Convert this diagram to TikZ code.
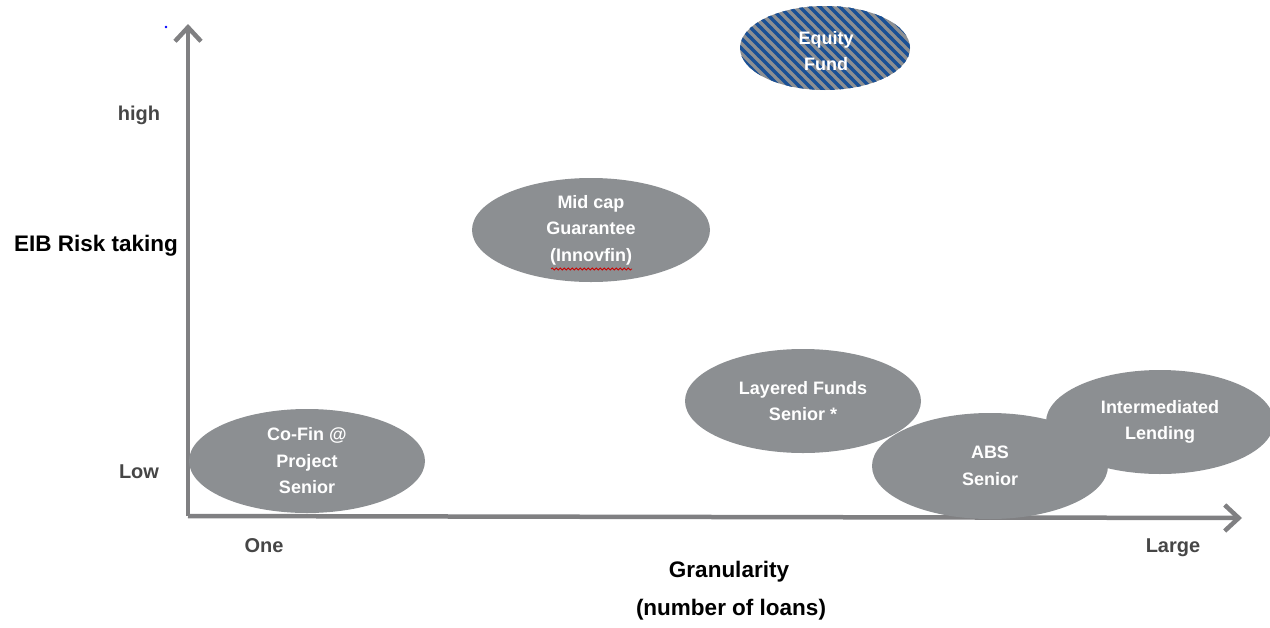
\documentclass[tikz,border=0pt]{standalone}
\usepackage{fontspec}
\setmainfont{Liberation Sans}
\usetikzlibrary{arrows.meta,patterns.meta,decorations.pathmorphing,shapes.geometric}
\definecolor{axisgray}{RGB}{128,128,130}
\definecolor{ellgray}{RGB}{140,143,146}
\definecolor{stripeblue}{RGB}{25,80,150}
\definecolor{labgray}{RGB}{70,70,70}
\tikzset{
  blobtext/.style={text=white, font=\fontsize{18}{26.5}\selectfont\bfseries, align=center},
  blob/.style={ellipse, fill=ellgray, blobtext, inner sep=0pt},
  axisline/.style={draw=axisgray, line width=4.5pt, -{Straight Barb[length=14pt,width=26pt,line width=4.5pt]}},
  axlab/.style={text=labgray, font=\fontsize{20}{24}\selectfont\bfseries},
  title/.style={text=black, font=\fontsize{22.5}{26}\selectfont\bfseries},
}
\pgfdeclarepattern{
  name=eqstripes, type=uncolored,
  bottom left={\pgfpoint{-.1pt}{-.1pt}}, top right={\pgfpoint{10.1pt}{10.1pt}},
  tile size={\pgfpoint{10pt}{10pt}},
  code={
    \pgfsetlinewidth{3.4pt}
    \pgfpathmoveto{\pgfpoint{-1pt}{11pt}}\pgfpathlineto{\pgfpoint{11pt}{-1pt}}
    \pgfpathmoveto{\pgfpoint{-2pt}{2pt}}\pgfpathlineto{\pgfpoint{2pt}{-2pt}}
    \pgfpathmoveto{\pgfpoint{8pt}{12pt}}\pgfpathlineto{\pgfpoint{12pt}{8pt}}
    \pgfusepath{stroke}
  }
}
\begin{document}
\begin{tikzpicture}[x=1pt,y=-1pt]
\useasboundingbox (0,0) rectangle (1270,627);
% axes
\coordinate (o) at (188,516);
\coordinate (ytip) at (188,24);
\coordinate (xtip) at (1242,518);
\draw[axisline] (o) -- (ytip);
\draw[axisline] (o) -- (xtip);
% ellipses
\node[blob, minimum width=236pt, minimum height=104pt] (cofin) at (307,461) {Co-Fin @\\Project\\Senior};
\node[blob, minimum width=238pt, minimum height=104pt] (midcap) at (591,230) {Mid cap\\Guarantee\\(Innovfin)};
\node[blob, minimum width=236pt, minimum height=104pt] (layered) at (803,401) {Layered Funds\\Senior *};
\node[blob, minimum width=228pt, minimum height=104pt] (inter) at (1160,422) {Intermediated\\Lending};
\node[blob, minimum width=236pt, minimum height=106pt] (abs) at (990,466) {ABS\\Senior};
\node[ellipse, minimum width=170pt, minimum height=84pt, fill=ellgray, draw=none, inner sep=0pt] (eqbg) at (825,48) {};
\node[ellipse, minimum width=170pt, minimum height=84pt, pattern={eqstripes}, pattern color=stripeblue, inner sep=0pt] (equity) at (825,48) {};
\node[blobtext] (eqtext) at (826,51) {Equity\\Fund};
% spellcheck underline
\coordinate (u1) at (551,269);
\coordinate (u2) at (632,269);
\draw[red!80!black, line width=0.8pt, decorate, decoration={snake, amplitude=1pt, segment length=4pt}] (u1) -- (u2);
% labels
\node[axlab] (high) at (139,115) {high};
\node[axlab] (low) at (139,472) {Low};
\node[title] (eib) at (96,246) {EIB Risk taking};
\node[axlab] (one) at (264,546) {One};
\node[axlab] (large) at (1173,548) {Large};
\node[title] (gran) at (729,572) {Granularity};
\node[title] (nloans) at (731,610) {(number of loans)};
% stray dot
\fill[blue] (166,27) circle (1.3pt);
\end{tikzpicture}
\end{document}
